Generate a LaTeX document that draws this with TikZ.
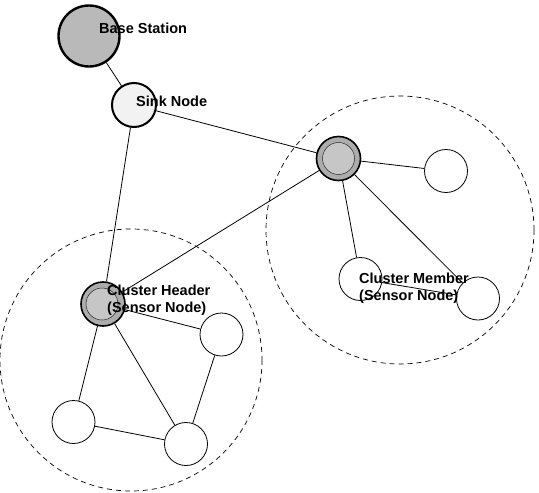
\documentclass[tikz,border=0pt]{standalone}
\usepackage{fontspec}
\setmainfont{Liberation Sans}
\begin{document}
\begin{tikzpicture}[x=1pt,y=-1pt,
  member/.style={circle,draw=black,line width=0.8pt,fill=white,minimum size=43pt,inner sep=0pt},
  headnode/.style={circle,draw=black,line width=1.6pt,fill=gray!65,minimum size=44pt,inner sep=0pt},
  headinner/.style={circle,draw=gray!30!black,line width=0.5pt,fill=gray!45,minimum size=32pt,inner sep=0pt},
  basenode/.style={circle,draw=black,line width=2.4pt,fill=gray!55,minimum size=61pt,inner sep=0pt},
  sinknode/.style={circle,draw=black,line width=2pt,fill=gray!10,minimum size=44pt,inner sep=0pt},
  link/.style={draw=black,line width=0.8pt},
  cluster/.style={draw=black,line width=0.7pt,dashed,dash pattern=on 5pt off 4pt},
  lbl/.style={font=\fontsize{14.5}{17}\selectfont\bfseries,inner sep=0pt,anchor=west,align=left}]
\useasboundingbox (0,0) rectangle (539,493);
% clusters
\draw[cluster] (400,230) circle[radius=134];
\draw[cluster] (131,360) circle[radius=131];
% nodes
\node[basenode] (bs) at (89,36) {};
\node[sinknode] (sink) at (134,105) {};
\node[headnode] (ch1) at (338.5,158.5) {};
\node[headinner] (ch1i) at (338.5,158.5) {};
\node[headnode] (ch2) at (103,304) {};
\node[headinner] (ch2i) at (102,304) {};
\node[member] (m1) at (446,171) {};
\node[member] (m2) at (360.5,279) {};
\node[member] (m3) at (478,298.5) {};
\node[member] (m4) at (221.5,334.5) {};
\node[member] (m5) at (73.5,422) {};
\node[member] (m6) at (186,444) {};
% links
\path[link] (bs) -- (sink);
\path[link] (sink) -- (ch1);
\path[link] (sink) -- (ch2);
\path[link] (ch1) -- (ch2);
\path[link] (ch1) -- (m1);
\path[link] (ch1) -- (m2);
\path[link] (ch1) -- (m3);
\path[link] (m2) -- (m3);
\path[link] (ch2) -- (m4);
\path[link] (ch2) -- (m5);
\path[link] (ch2) -- (m6);
\path[link] (m5) -- (m6);
\path[link] (m4) -- (m6);
% labels
\node[lbl] (tbs) at (99,28) {Base Station};
\node[lbl] (tsink) at (136,101) {Sink Node};
\node[lbl] (tch) at (107,300) {Cluster Header\\(Sensor Node)};
\node[lbl] (tcm) at (359,288.5) {Cluster Member\\(Sensor Node)};
\end{tikzpicture}
\end{document}
